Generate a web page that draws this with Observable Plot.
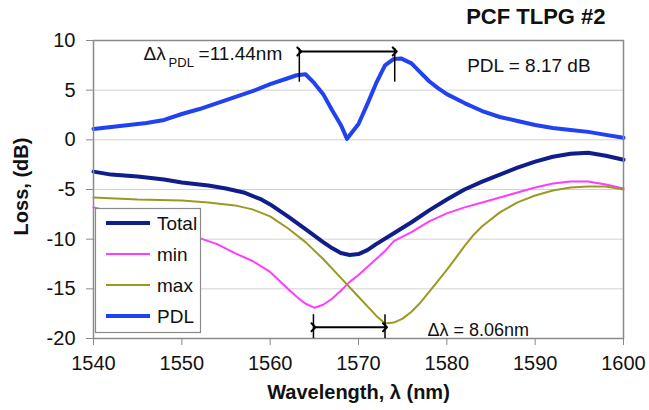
<!DOCTYPE html>
<html>
<head>
<meta charset="utf-8">
<script src="https://cdn.jsdelivr.net/npm/d3@7"></script>
<script src="https://cdn.jsdelivr.net/npm/@observablehq/plot@0.6"></script>
<style>
  html, body { margin: 0; padding: 0; background: white; }
  #chart svg { display: block; }
</style>
</head>
<body>
<div id="chart"></div>
<script>
// ---------- data ----------
const xTicks = [1540, 1550, 1560, 1570, 1580, 1590, 1600];
const yTicks = [-20, -15, -10, -5, 0, 5, 10];

const totalWl   = [1540, 1542, 1545, 1548, 1550, 1553, 1555, 1557, 1559, 1560, 1562, 1564, 1566, 1567, 1568, 1569, 1570, 1571, 1572, 1574, 1576, 1578, 1580, 1582, 1584, 1586, 1588, 1590, 1592, 1594, 1596, 1598, 1600];
const totalLoss = [-3.2, -3.5, -3.7, -4.0, -4.3, -4.6, -4.9, -5.3, -6.0, -6.5, -7.7, -9.0, -10.3, -10.9, -11.4, -11.6, -11.5, -11.1, -10.5, -9.4, -8.3, -7.1, -6.0, -5.0, -4.2, -3.5, -2.8, -2.2, -1.7, -1.4, -1.3, -1.6, -2.0];

const minWl   = [1540, 1541, 1545, 1550, 1552, 1554, 1556, 1558, 1560, 1562, 1563, 1564, 1565, 1566, 1567, 1568, 1569, 1570, 1571, 1572, 1573, 1574, 1576, 1578, 1580, 1582, 1584, 1586, 1588, 1590, 1592, 1594, 1596, 1598, 1600];
const minLoss = [-6.8, -7.0, -7.8, -9.0, -9.9, -10.5, -11.4, -12.2, -13.3, -15.0, -15.8, -16.5, -16.9, -16.6, -16.0, -15.2, -14.3, -13.6, -12.8, -12.0, -11.2, -10.2, -9.3, -8.2, -7.4, -6.8, -6.3, -5.8, -5.3, -4.8, -4.4, -4.2, -4.2, -4.5, -4.9];

const maxWl   = [1540, 1545, 1550, 1553, 1556, 1558, 1560, 1562, 1564, 1566, 1568, 1570, 1572, 1573, 1574, 1575, 1576, 1577, 1578, 1579, 1580, 1581, 1582, 1583, 1584, 1586, 1588, 1590, 1592, 1594, 1596, 1598, 1600];
const maxLoss = [-5.8, -6.0, -6.1, -6.3, -6.6, -7.0, -7.7, -8.9, -10.3, -12.0, -13.9, -15.8, -17.7, -18.5, -18.4, -18.0, -17.3, -16.4, -15.3, -14.2, -13.1, -11.9, -10.7, -9.6, -8.7, -7.3, -6.3, -5.6, -5.1, -4.8, -4.7, -4.7, -5.0];

const pdlWl   = [1540, 1542, 1544, 1546, 1548, 1550, 1552, 1554, 1556, 1558, 1560, 1562, 1563, 1564, 1565, 1566, 1567, 1568, 1568.7, 1570, 1571, 1572, 1573, 1574, 1574.8, 1576, 1577, 1578, 1579, 1580, 1582, 1584, 1586, 1588, 1590, 1592, 1594, 1596, 1598, 1600];
const pdlLoss = [1.1, 1.3, 1.5, 1.7, 2.0, 2.6, 3.1, 3.7, 4.3, 4.9, 5.6, 6.2, 6.5, 6.6, 5.7, 4.6, 3.0, 1.5, 0.1, 1.6, 3.6, 5.7, 7.5, 8.15, 8.2, 7.7, 6.8, 5.9, 5.2, 4.6, 3.7, 2.9, 2.3, 1.9, 1.5, 1.2, 1.0, 0.8, 0.5, 0.2];

const legendNames = ["Total", "min", "max", "PDL"];

// annotation values
const pdlBracket = [1563.3, 1574.1];   // Δλ_PDL = 11.44 nm
const dipBracket = [1564.9, 1573.0];   // Δλ = 8.06 nm
const titleText = "PCF TLPG #2";
const pdlText = "PDL = 8.17 dB";
const dipText = "Δλ = 8.06nm";

// ---------- styles ----------
const series = [
  {name: "Total", x: totalWl, y: totalLoss, color: "#101e8c", width: 4},
  {name: "min",   x: minWl,   y: minLoss,   color: "#ff3cff", width: 2},
  {name: "max",   x: maxWl,   y: maxLoss,   color: "#9a9a22", width: 2},
  {name: "PDL",   x: pdlWl,   y: pdlLoss,   color: "#2142f0", width: 4}
];
const FONT = "'Liberation Sans', Arial, Helvetica, sans-serif";

const chart = Plot.plot({
  width: 649,
  height: 410,
  marginLeft: 93,
  marginRight: 26,
  marginTop: 40,
  marginBottom: 72,
  style: {fontFamily: FONT, fontSize: "20px", background: "white", color: "#111"},
  x: {domain: [1540, 1600]},
  y: {domain: [-20, 10]},
  marks: [
    Plot.gridY(yTicks.filter(d => d > -20 && d < 10), {stroke: "#d2d2d2", strokeOpacity: 1, strokeWidth: 1}),
    ...series.map(s => Plot.line(s.y, {x: s.x, y: s.y, stroke: s.color, strokeWidth: s.width, strokeLinejoin: "round"})),
    Plot.frame({stroke: "#8a8a8a", strokeWidth: 1.5}),
    Plot.axisX(xTicks, {tickSize: 7, tickPadding: 10, label: null, tickFormat: d => String(d), stroke: "#8a8a8a", fill: "#111", fontSize: 20}),
    Plot.axisY(yTicks, {tickSize: 7, tickPadding: 11, label: null, tickFormat: d => String(d), stroke: "#8a8a8a", fill: "#111", fontSize: 20}),
    // Δλ_PDL bracket
    Plot.ruleX(pdlBracket, {y1: 5.8, y2: 9.2, stroke: "black", strokeWidth: 1.5}),
    Plot.link([0], {x1: pdlBracket[0], x2: pdlBracket[1], y1: 8.9, y2: 8.9, stroke: "black", strokeWidth: 2, markerStart: "arrow", markerEnd: "arrow"}),
    Plot.text(["Δλ"], {x: 1545.66, y: 8.0, textAnchor: "start", lineAnchor: "bottom", fontSize: 19, fill: "#111"}),
    Plot.text(["PDL"], {x: 1548.5, y: 7.35, textAnchor: "start", lineAnchor: "bottom", fontSize: 13, fill: "#111"}),
    Plot.text(["=11.44nm"], {x: 1551.9, y: 8.0, textAnchor: "start", lineAnchor: "bottom", fontSize: 19, fill: "#111"}),
    Plot.text([pdlText], {x: 1582.3, y: 6.78, textAnchor: "start", lineAnchor: "bottom", fontSize: 19, fill: "#111"}),
    // Δλ bracket
    Plot.ruleX(dipBracket, {y1: -17.6, y2: -20, stroke: "black", strokeWidth: 1.5}),
    Plot.link([0], {x1: dipBracket[0], x2: dipBracket[1], y1: -18.87, y2: -18.87, stroke: "black", strokeWidth: 2, markerStart: "arrow", markerEnd: "arrow"}),
    Plot.text([dipText], {x: 1577.8, y: -19.7, textAnchor: "start", lineAnchor: "bottom", fontSize: 18, fill: "#111"}),
    // titles
    Plot.text([titleText], {frameAnchor: "top-right", dx: -18, dy: -17, textAnchor: "end", lineAnchor: "bottom", fontSize: 22, fontWeight: "bold", fill: "#111"}),
    Plot.text(["Loss, (dB)"], {frameAnchor: "left", dx: -72, dy: -3, rotate: -90, textAnchor: "middle", lineAnchor: "middle", fontSize: 20, fontWeight: "bold", fill: "#111"}),
    Plot.text(["Wavelength, λ (nm)"], {frameAnchor: "bottom", dy: 60, textAnchor: "middle", lineAnchor: "bottom", fontSize: 20, fontWeight: "bold", fill: "#111"})
  ]
});

document.getElementById("chart").appendChild(chart);

// ---------- legend ----------
const svg = d3.select(chart);
const lg = svg.append("g").attr("font-family", FONT).attr("text-anchor", "start");
lg.append("rect")
  .attr("x", 95.5).attr("y", 208.5).attr("width", 105).attr("height", 124)
  .attr("fill", "white").attr("stroke", "#8a8a8a").attr("stroke-width", 1.2);
legendNames.forEach((name, i) => {
  const s = series.find(d => d.name === name);
  const cy = 223 + i * 31;
  lg.append("line").attr("x1", 106).attr("x2", 150).attr("y1", cy).attr("y2", cy)
    .attr("stroke", s.color).attr("stroke-width", s.width).attr("stroke-linecap", "butt");
  lg.append("text").attr("x", 157).attr("y", cy + 6.5).attr("font-size", 19)
    .attr("text-anchor", "start").attr("fill", "#111").text(name);
});
</script>
</body>
</html>
